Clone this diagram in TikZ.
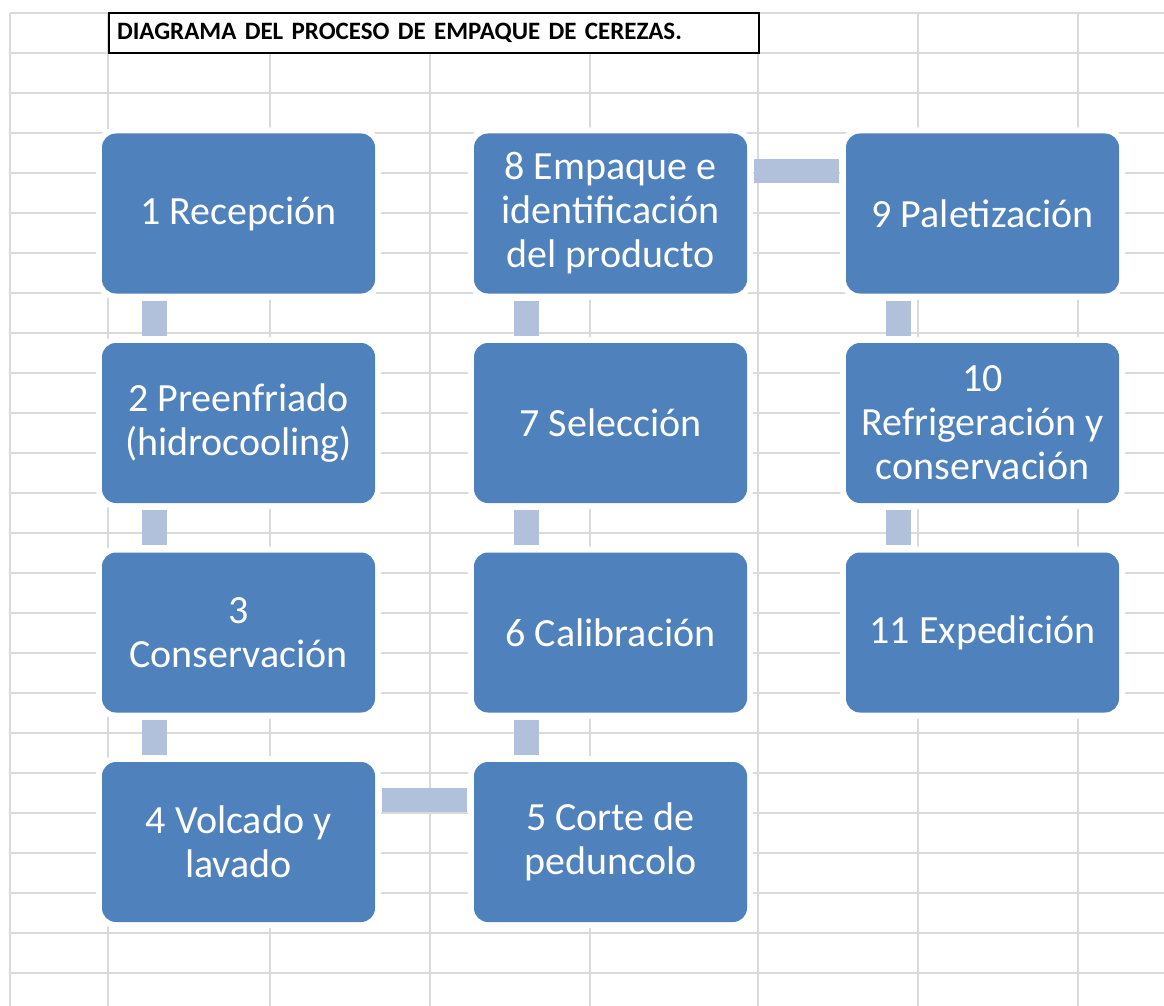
\documentclass[tikz,border=0pt]{standalone}
\usepackage{fontspec}
\setmainfont{Carlito}
\definecolor{boxblue}{HTML}{4F81BD}
\definecolor{connblue}{HTML}{B2C1DB}
\definecolor{gridgray}{HTML}{DADADA}
\tikzset{
  gridline/.style={draw=gridgray, line width=1.7pt},
  stepbox/.style={rectangle, rounded corners=14pt, fill=boxblue, text=white,
    minimum width=273pt, minimum height=160pt, inner sep=0pt, align=center,
    font=\fontsize{40}{44}\selectfont,
    preaction={draw=white, line width=12pt}},
  vconn/.style={draw=connblue, line width=25pt},
  hconn/.style={draw=connblue, line width=24pt},
  titlebox/.style={rectangle, draw=black, line width=2pt, fill=white,
    minimum height=40pt, inner xsep=8pt, inner ysep=0pt, text width=634pt, align=left,
    font=\fontsize{25}{28}\selectfont\bfseries}
}
\begin{document}
\begin{tikzpicture}[x=1pt,y=-1pt]
\useasboundingbox[fill=white] (0,0) rectangle (1164,1006);
% spreadsheet grid
\foreach \yy in {0,...,24} {
  \draw[gridline] (10,{13+40*\yy}) -- (1164,{13+40*\yy});
}
\foreach \xx in {10,108,270,430,590,758,918,1078} {
  \draw[gridline] (\xx,13) -- (\xx,1006);
}
% title
\node[titlebox, anchor=west] (title) at (108,33) {DIAGRAMA DEL PROCESO DE EMPAQUE DE CEREZAS.};
% process boxes
\node[stepbox] (b1) at (238.5,213.5) {1 Recepción};
\node[stepbox] (b2) at (238.5,423) {2 Preenfriado\\(hidrocooling)};
\node[stepbox] (b3) at (238.5,632.5) {3\\Conservación};
\node[stepbox] (b4) at (238.5,842) {4 Volcado y\\lavado};
\node[stepbox] (b5) at (610.5,842) {5 Corte de\\peduncolo};
\node[stepbox] (b6) at (610.5,632.5) {6 Calibración};
\node[stepbox] (b7) at (610.5,423) {7 Selección};
\node[stepbox] (b8) at (610.5,213.5) {8 Empaque e\\identificación\\del producto};
\node[stepbox] (b9) at (982.5,213.5) {9 Paletización};
\node[stepbox] (b10) at (982.5,423) {10\\Refrigeración y\\conservación};
\node[stepbox] (b11) at (982.5,632.5) {11 Expedición};
% connectors
\draw[vconn] ([xshift=-84pt,yshift=-7pt]b1.south) -- ([xshift=-84pt,yshift=7pt]b2.north);
\draw[vconn] ([xshift=-84pt,yshift=-7pt]b2.south) -- ([xshift=-84pt,yshift=7pt]b3.north);
\draw[vconn] ([xshift=-84pt,yshift=-7pt]b3.south) -- ([xshift=-84pt,yshift=7pt]b4.north);
\draw[hconn] ([xshift=7pt,yshift=42pt]b4.east) -- ([xshift=-7pt,yshift=42pt]b5.west);
\draw[vconn] ([xshift=-84pt,yshift=7pt]b5.north) -- ([xshift=-84pt,yshift=-7pt]b6.south);
\draw[vconn] ([xshift=-84pt,yshift=7pt]b6.north) -- ([xshift=-84pt,yshift=-7pt]b7.south);
\draw[vconn] ([xshift=-84pt,yshift=7pt]b7.north) -- ([xshift=-84pt,yshift=-7pt]b8.south);
\draw[hconn] ([xshift=7pt,yshift=43pt]b8.east) -- ([xshift=-7pt,yshift=43pt]b9.west);
\draw[vconn] ([xshift=-84pt,yshift=-7pt]b9.south) -- ([xshift=-84pt,yshift=7pt]b10.north);
\draw[vconn] ([xshift=-84pt,yshift=-7pt]b10.south) -- ([xshift=-84pt,yshift=7pt]b11.north);
\end{tikzpicture}
\end{document}
